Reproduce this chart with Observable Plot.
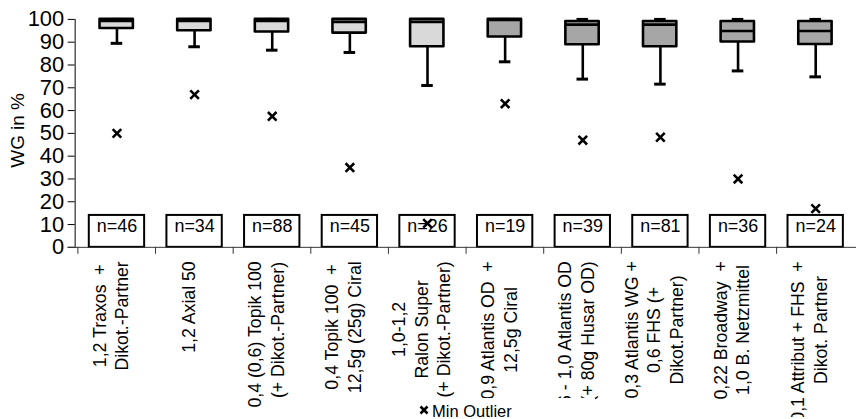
<!DOCTYPE html>
<html><head><meta charset="utf-8">
<script src="https://cdn.jsdelivr.net/npm/d3@7"></script>
<script src="https://cdn.jsdelivr.net/npm/@observablehq/plot@0.6"></script>
<style>
html,body{margin:0;padding:0;background:#fff;overflow:hidden;}
#wrap{position:relative;width:856px;height:419px;overflow:hidden;}
#chart svg text{white-space:pre;}
#legend{position:absolute;left:300px;top:398px;width:295px;height:21px;background:#fff;font:16.5px "Liberation Sans",Arial,sans-serif;}
#legend span{position:absolute;left:132px;top:5px;line-height:16px;white-space:nowrap;}
#legend svg{position:absolute;left:119px;top:7px;}
</style></head>
<body><div id="wrap"><div id="chart"></div>
<div id="legend"><svg width="10" height="10"><path d="M1.5,1.5L8.5,8.5M8.5,1.5L1.5,8.5" stroke="#000" stroke-width="2.6"/></svg><span>Min Outlier</span></div>
</div>
<script>
// ---- data ----
const categories = [
  "1,2 Traxos  +\nDikot.-Partner",
  "1,2 Axial 50",
  "0,4 (0,6) Topik 100\n(+ Dikot.-Partner)",
  "0,4 Topik 100  +\n12,5g (25g) Ciral",
  "1,0-1,2\nRalon Super\n(+ Dikot.-Partner)",
  "0,9 Atlantis OD  +\n12,5g Ciral",
  "0,6 - 1,0 Atlantis OD\n(+ 80g Husar OD)",
  "0,3 Atlantis WG +\n0,6 FHS (+\nDikot.Partner)",
  "0,22 Broadway  +\n1,0 B. Netzmittel",
  "0,1 Attribut + FHS  +\nDikot. Partner"
];
const whiskerMax = [100, 100, 100, 100, 100, 100, 100, 100, 100, 100];
const q3         = [100, 100, 100, 100, 100, 100, 99.1, 99.1, 99.1, 99.1];
const median     = [99.3, 99.3, 99.3, 98.9, 98.9, 99.8, 97.7, 97.7, 94.9, 94.9];
const q1         = [96, 95, 94.5, 94, 88, 92.3, 88.9, 88, 90.1, 89];
const whiskerMin = [89.5, 88, 86.5, 85.5, 71, 81.4, 73.8, 71.6, 77.4, 74.8];
const minOutlier = [50, 67, 57.5, 35, 10.5, 63, 47, 48.3, 30, 17];
const nValues    = [46, 34, 88, 45, 26, 19, 39, 81, 36, 24];
const groups     = ["a","a","a","a","a","b","b","b","b","b"];
const yTicks = [0, 10, 20, 30, 40, 50, 60, 70, 80, 90, 100];
const yLabel = "WG in %";
const nBoxTop = 14;

// ---- layout ----
const W = 860, H = 419, mL = 75, mT = 19, mB = 171, mR = 0;
const bw = (W - mL - mR) / categories.length;
const FONT = "Liberation Sans, Arial, sans-serif";
const catFont = 17.8;

const rows = categories.map((c, i) => ({
  cat: c, max: whiskerMax[i], q3: q3[i], med: median[i], q1: q1[i],
  min: whiskerMin[i], out: minOutlier[i], n: "n=" + nValues[i], g: groups[i]
}));

// category label lines (block anchored below axis, lines centered in block)
const ctx = document.createElement("canvas").getContext("2d");
ctx.font = `${catFont}px ${FONT}`;
const TOP = 262, CAP = 138, LINE = 23, AXY = H - mB;
const lineRows = [];
categories.forEach(c => {
  const lines = c.split("\n");
  const lens = lines.map(l => ctx.measureText(l).width);
  const B = Math.min(d3.max(lens), CAP);
  lines.forEach((l, j) => {
    const L = lens[j];
    const top = L > B ? TOP : TOP + (B - L) / 2;
    lineRows.push({cat: c, line: l, dx: (j - (lines.length - 1) / 2) * LINE, dy: top - AXY});
  });
});

const marks = [
  // n boxes
  Plot.barY(rows, {x: "cat", y1: 0, y2: nBoxTop, fill: "white", stroke: "black", strokeWidth: 2, insetLeft: 11.2, insetRight: 11.2}),
  Plot.text(rows, {x: "cat", y: nBoxTop * 0.65, text: "n", fontSize: 18, fill: "black"}),
  // whiskers
  Plot.ruleX(rows, {x: "cat", y1: "min", y2: "q1", stroke: "black", strokeWidth: 2.6}),
  Plot.ruleX(rows, {x: "cat", y1: "q3", y2: "max", stroke: "black", strokeWidth: 2.6}),
  Plot.tickY(rows, {x: "cat", y: "min", stroke: "black", strokeWidth: 3, insetLeft: 33.2, insetRight: 33.2}),
  Plot.tickY(rows, {x: "cat", y: "max", stroke: "black", strokeWidth: 3, insetLeft: 33.2, insetRight: 33.2}),
  // boxes
  Plot.barY(rows, {filter: d => d.g === "a", x: "cat", y1: "q1", y2: "q3", fill: "#d9d9d9", stroke: "black", strokeWidth: 2.6, strokeLinejoin: "round", insetLeft: 22, insetRight: 22.5}),
  Plot.barY(rows, {filter: d => d.g === "b", x: "cat", y1: "q1", y2: "q3", fill: "#a6a6a6", stroke: "black", strokeWidth: 2.6, strokeLinejoin: "round", insetLeft: 22, insetRight: 22.5}),
  Plot.tickY(rows, {x: "cat", y: "med", stroke: "black", strokeWidth: 2.6, insetLeft: 22, insetRight: 22.5}),
  // outliers
  Plot.dot(rows, {x: "cat", y: "out", symbol: "times", r: 4, stroke: "black", strokeWidth: 2.6}),
  // x axis line and boundary ticks
  Plot.ruleY([0], {stroke: "#333", strokeWidth: 1, insetLeft: -7}),
  Plot.ruleX(categories, {x: d => d, dx: -bw / 2, y1: 0, y2: 0, insetTop: 7, stroke: "#333", strokeWidth: 1}),
  // y label
  Plot.text([yLabel], {text: d => d, frameAnchor: "left", rotate: -90, dx: -57, dy: 34.5, fontSize: 19, fill: "black"}),
  // category labels
  ...lineRows.map(l => Plot.text([l], {x: "cat", text: "line", frameAnchor: "bottom", rotate: -90, textAnchor: "end", dx: l.dx, dy: l.dy, fontSize: catFont, fill: "black"}))
];

const chart = Plot.plot({
  width: W, height: H,
  marginLeft: mL, marginRight: mR, marginTop: mT, marginBottom: mB,
  style: {fontFamily: FONT, fontSize: "22px", color: "#000", background: "white"},
  x: {type: "band", domain: categories, padding: 0, axis: null},
  y: {domain: [0, 100], ticks: yTicks, tickSize: 7, tickPadding: 4, label: null, line: true},
  marks
});
document.getElementById("chart").appendChild(chart);
</script>
</body></html>
